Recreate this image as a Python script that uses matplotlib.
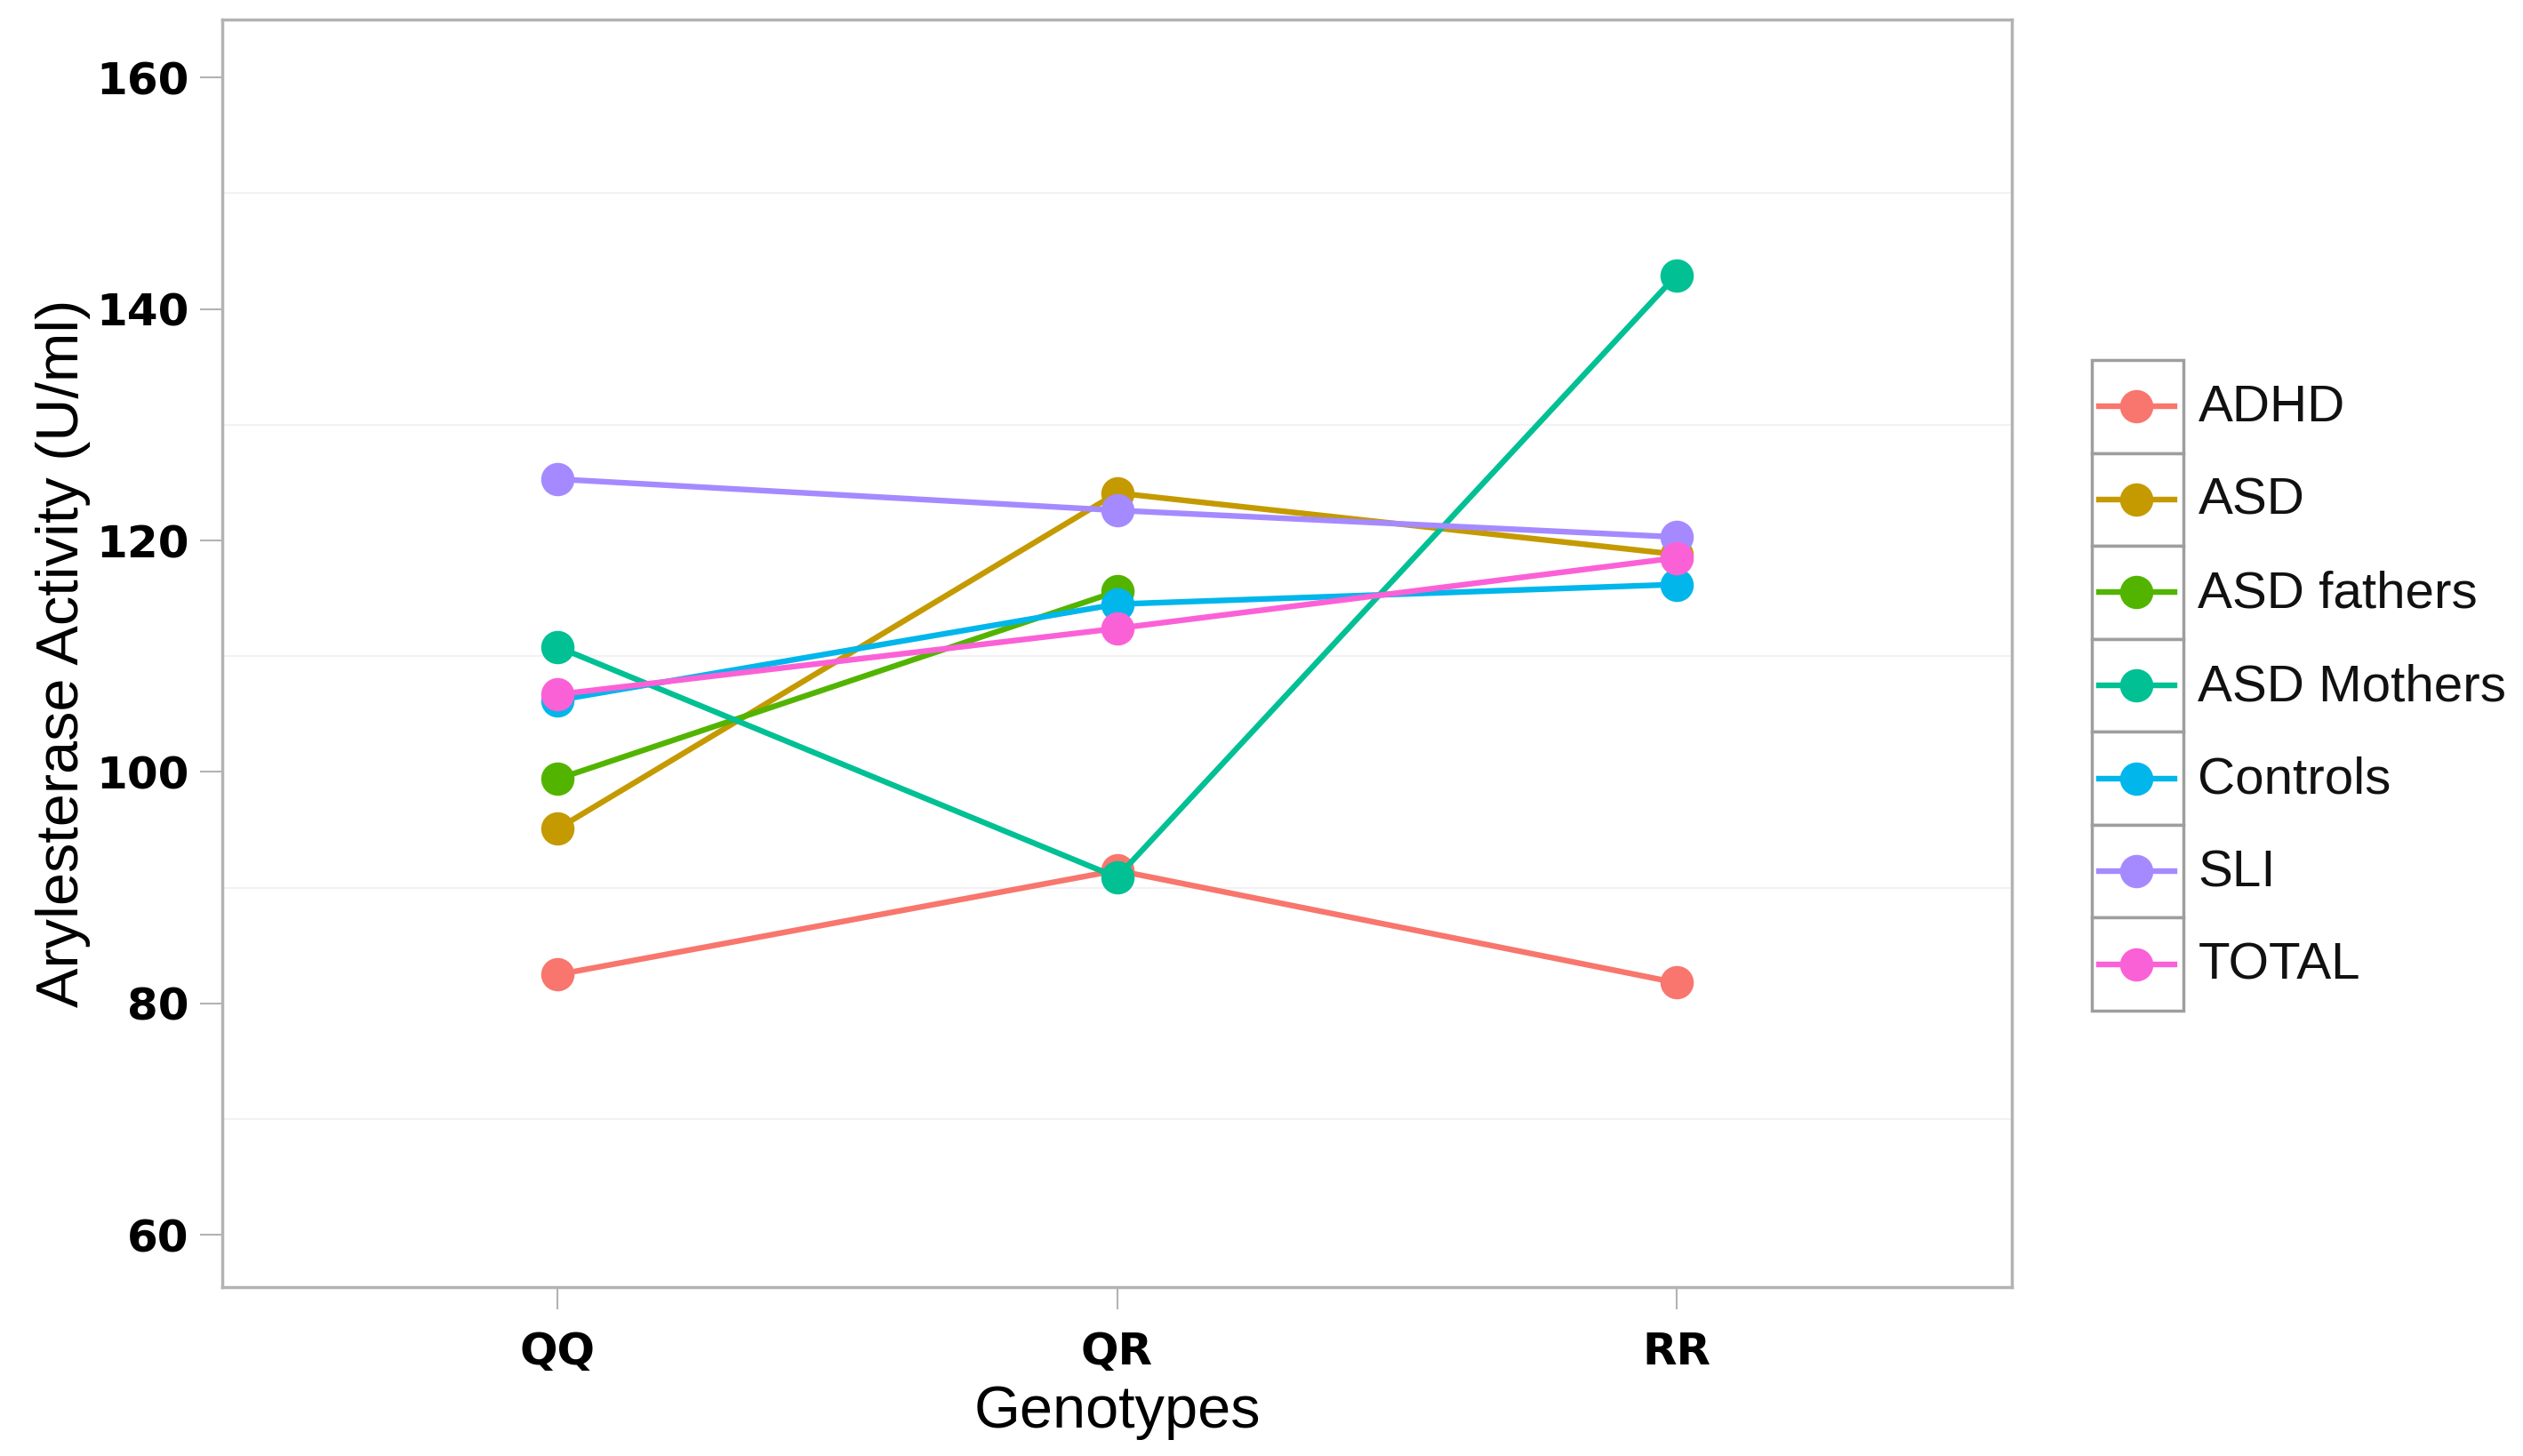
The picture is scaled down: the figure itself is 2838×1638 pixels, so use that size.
import numpy as np
import matplotlib
matplotlib.use("Agg")
import matplotlib.pyplot as plt
from matplotlib.patches import Rectangle
from matplotlib.lines import Line2D

# ── data ──────────────────────────────────────────────────────────
genotypes = ["QQ", "QR", "RR"]

groups = ["ADHD", "ASD", "ASD fathers", "ASD Mothers", "Controls", "SLI", "TOTAL"]

adhd        = [82.5, 91.5, 81.8]
asd         = [95.1, 124.1, 118.8]
asd_fathers = [99.4, 115.6, np.nan]
asd_mothers = [110.8, 90.9, 142.9]
controls    = [106.2, 114.5, 116.2]
sli         = [125.3, 122.6, 120.3]
total       = [106.7, 112.4, 118.5]

series = [adhd, asd, asd_fathers, asd_mothers, controls, sli, total]

colors = ["#F8766D", "#C49A00", "#53B400", "#00C094", "#00B6EB", "#A58AFF", "#FB61D7"]

yticks = [60, 80, 100, 120, 140, 160]
yminor = [70, 90, 110, 130, 150]

# ── figure ────────────────────────────────────────────────────────
W, H = 2838, 1638
fig = plt.figure(figsize=(W / 100, H / 100), dpi=100, facecolor="white")
ax = fig.add_axes([250 / W, 1 - 1448 / H, (2263 - 250) / W, (1448 - 22) / H])

x = np.arange(1, len(genotypes) + 1)
LW = 4.6
MS = 27

for ys, c in zip(series, colors):
    ax.plot(x, ys, color=c, lw=LW, marker="o", ms=MS, mec="none", zorder=3)

ax.set_xlim(0.4, 3.6)
ax.set_ylim(55.5, 165)
ax.set_xticks(x)
ax.set_xticklabels(genotypes)
ax.set_yticks(yticks)
ax.set_yticks(yminor, minor=True)
ax.grid(False)
for v in yminor:
    ax.axhline(v, color="#F2F2F2", lw=1.5, zorder=1)

for sp in ax.spines.values():
    sp.set_color("#B3B3B3")
    sp.set_linewidth(2.5)

ax.tick_params(axis="both", which="major", length=18, width=1.5, color="#B3B3B3",
               labelsize=36)
ax.tick_params(axis="y", which="major", pad=9)
ax.tick_params(axis="x", which="major", pad=17)
ax.tick_params(axis="y", which="minor", length=0)
for lab in ax.get_xticklabels() + ax.get_yticklabels():
    lab.set_fontweight("heavy")

ax.set_xlabel("Genotypes", fontsize=48, family="Liberation Sans", labelpad=10)
ax.set_ylabel("Arylesterase Activity (U/ml)", fontsize=48, family="Liberation Sans",
              labelpad=4)

# ── legend drawn as ggplot-style keyed boxes ─────────────────────
lx0, lx1 = 2353, 2456
ly_top, ly_bot = 405, 1137
lax = fig.add_axes([lx0 / W, 1 - ly_bot / H, (lx1 - lx0) / W, (ly_bot - ly_top) / H])
lax.set_xlim(0, 1)
lax.set_ylim(len(groups), 0)
lax.axis("off")
for i, (g, c) in enumerate(zip(groups, colors)):
    lax.add_patch(Rectangle((0, i), 1, 1, facecolor="white", edgecolor="#9E9E9E",
                            lw=2.5, clip_on=False))
    lax.add_line(Line2D([0.08, 0.9], [i + 0.5, i + 0.5], color=c, lw=LW,
                        clip_on=False))
    lax.plot([0.49], [i + 0.5], marker="o", ms=MS, color=c, mec="none", clip_on=False)
    lax.text(1.16, i + 0.52, g, fontsize=42, family="Liberation Sans",
             va="center", ha="left", color="#111111")

fig.savefig("out.png", dpi=100, facecolor="white")
